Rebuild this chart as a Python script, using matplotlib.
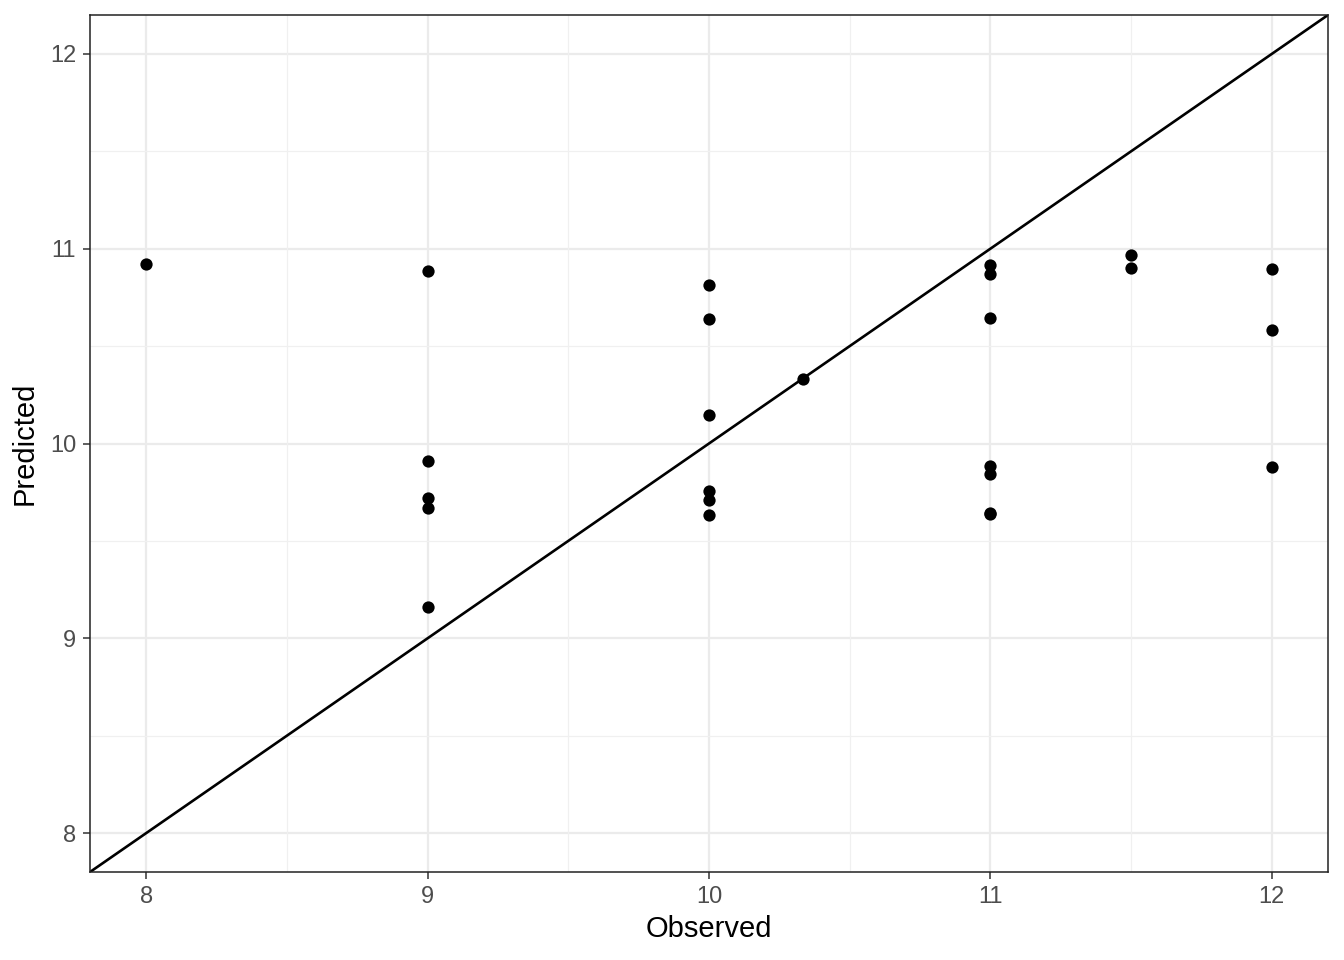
import numpy as np
import matplotlib
matplotlib.use("Agg")
from matplotlib import pyplot as plt

plt.rcParams['font.family'] = ['Liberation Sans', 'DejaVu Sans']

# observed vs predicted values
observed = [8, 9, 9, 9, 9, 9,
            10, 10, 10, 10, 10, 10, 10.333,
            11, 11, 11, 11, 11, 11, 11,
            11.5, 11.5, 12, 12, 12]
predicted = [10.923, 10.887, 9.908, 9.721, 9.667, 9.159,
             10.815, 10.641, 10.144, 9.756, 9.710, 9.633, 10.331,
             10.918, 10.872, 10.646, 9.884, 9.841, 9.643, 9.638,
             10.969, 10.903, 10.897, 10.585, 9.877]

major_ticks = [8, 9, 10, 11, 12]
minor_ticks = [8.5, 9.5, 10.5, 11.5]

fig = plt.figure(figsize=(13.44, 9.6), dpi=100)
ax = fig.add_axes([90/1344, 1-872/960, (1328-90)/1344, (872-15)/960])

lo, hi = 7.8, 12.2
ax.set_xlim(lo, hi)
ax.set_ylim(lo, hi)

# ggplot theme_bw style grid
for t in major_ticks:
    ax.axvline(t, color='#ebebeb', lw=1.6, zorder=0)
    ax.axhline(t, color='#ebebeb', lw=1.6, zorder=0)
for t in minor_ticks:
    ax.axvline(t, color='#f0f0f0', lw=0.9, zorder=0)
    ax.axhline(t, color='#f0f0f0', lw=0.9, zorder=0)

ax.plot([lo, hi], [lo, hi], color='black', lw=1.9, zorder=2)
ax.scatter(observed, predicted, s=78, c='black', zorder=3, linewidths=0)

ax.set_xticks(major_ticks)
ax.set_yticks(major_ticks)
ax.set_xticklabels([str(t) for t in major_ticks])
ax.set_yticklabels([str(t) for t in major_ticks])
ax.tick_params(length=5, width=1.1, color='#333333', labelcolor='#4d4d4d',
               labelsize=17, pad=5)

for s in ax.spines.values():
    s.set_color('#222222')
    s.set_linewidth(1.1)

ax.set_xlabel('Observed', fontsize=21, labelpad=5)
ax.set_ylabel('Predicted', fontsize=21, labelpad=8)

fig.savefig('out.png', dpi=100)
